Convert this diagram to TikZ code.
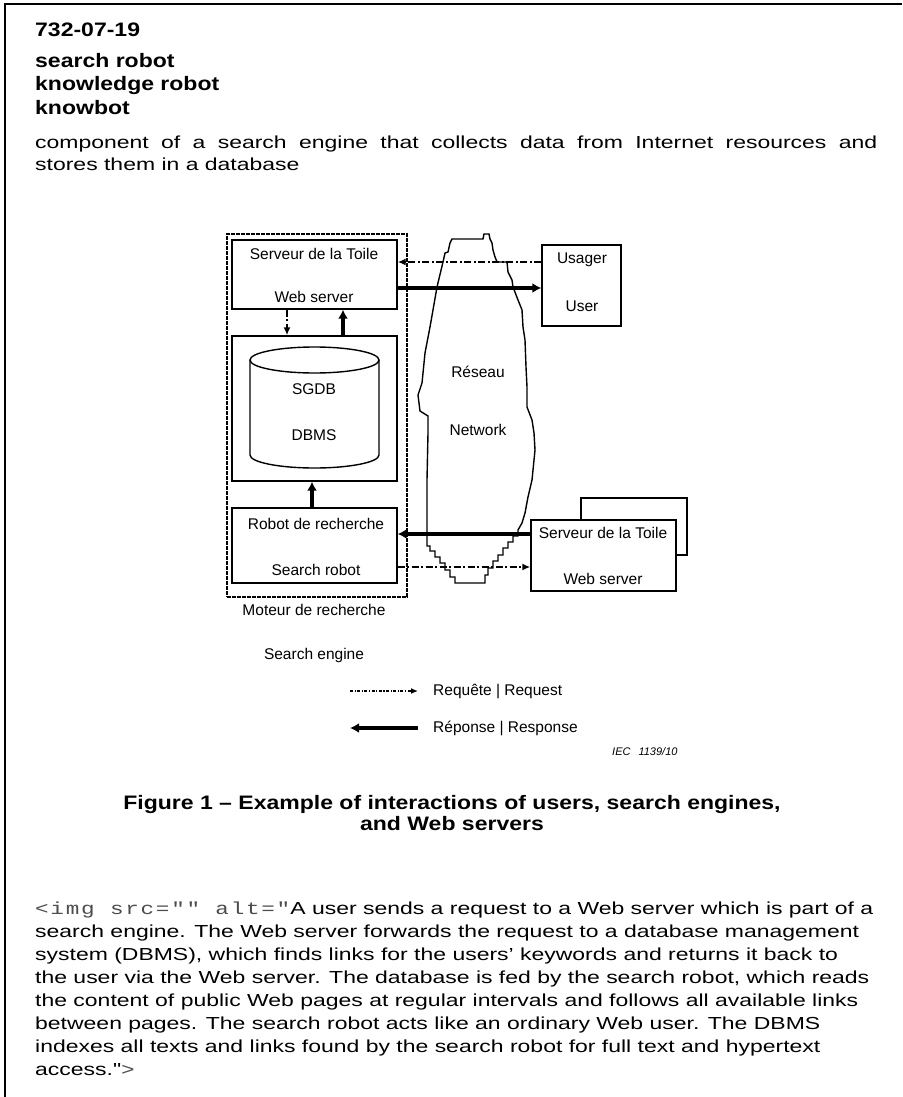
\documentclass[tikz,border=0pt]{standalone}
\usepackage{fontspec}
\setmainfont{Liberation Sans}
\newfontfamily\headfont[FakeStretch=1.18]{Liberation Sans}
\newfontfamily\bodyfont[FakeStretch=1.32]{Liberation Sans}
\newfontfamily\altcode[FakeStretch=1.3, LetterSpace=10]{Liberation Mono}
\usetikzlibrary{arrows.meta}

\tikzset{
  box/.style={draw, line width=1.4pt, fill=white, inner sep=0pt},
  lbl/.style={inner sep=0pt, font=\fontsize{15.5}{18}\selectfont},
  txt/.style={inner sep=0pt, anchor=base west},
  head/.style={txt, font=\headfont\bfseries\fontsize{19.5}{23}\selectfont},
  alt/.style={txt, font=\bodyfont\fontsize{17.4}{23}\selectfont},
  req/.style={line width=1.8pt, dash pattern=on 7pt off 2.5pt on 2pt off 2.5pt,
    -{Latex[length=8pt,width=7pt]}},
  resp/.style={line width=4.5pt, -{Latex[length=9pt,width=10pt]}},
}

\begin{document}
\begin{tikzpicture}[x=1pt, y=-1pt]
\useasboundingbox (0,0) rectangle (902,1097);
\fill[white] (0,0) rectangle (902,1097);
\draw[line width=2.7pt] (5,1097) -- (5,4) -- (902,4);

% term entry
\node[head] (termno) at (35,37) {732-07-19};
\node[head] (terma) at (35,68) {search robot};
\node[head] (termb) at (35,91) {knowledge robot};
\node[head] (termc) at (35,114) {knowbot};
\node[alt] (defa) at (35,149)
  {\makebox[842pt][s]{component of a search engine that collects data from Internet resources and}};
\node[alt] (defb) at (35,170) {stores them in a database};

% network
\draw[line width=1.4pt] (452,239) -- (483,239) -- (484,234) -- (489,234) -- (490,239)
  -- (492,243) -- (493,250) -- (495,257) -- (497,262) -- (507,262) -- (508,272)
  -- (512,280) -- (513,287) -- (518,300) -- (522,310) -- (523,327) -- (525,340)
  -- (526,367) -- (527,387) -- (527,407) -- (532,420) -- (534,433) -- (535,450)
  -- (532,480) -- (528,497) -- (525,513) -- (522,523) -- (518,530) -- (518,536)
  -- (513,536) -- (513,542) -- (508,542) -- (508,548) -- (503,548) -- (503,555)
  -- (498,555) -- (498,561) -- (493,561) -- (493,568) -- (488,568) -- (488,575)
  -- (485,575) -- (485,583) -- (455,583) -- (455,577) -- (450,577) -- (450,570)
  -- (445,570) -- (445,563) -- (440,563) -- (440,557) -- (435,557) -- (435,551)
  -- (430,551) -- (430,546) -- (427,546) -- (427,480) -- (428,433) -- (428,416)
  -- (420,411) -- (418,395) -- (422,383) -- (425,353) -- (430,327) -- (433,310)
  -- (437,287) -- (443,262) -- (445,253) -- (448,252) -- (450,243) -- cycle;
\node[lbl] (reseau) at (478,372) {Réseau};
\node[lbl] (network) at (478,430) {Network};

% search engine
\node[draw, line width=2.6pt, dash pattern=on 4pt off 1pt, minimum width=180pt,
  minimum height=363pt] (engine) at (317,415.5) {};
\node[box, minimum width=165pt, minimum height=69pt] (weba) at (314.5,274.5) {};
\node[lbl] (webafr) at (314,254) {Serveur de la Toile};
\node[lbl] (webaen) at (314,297) {Web server};
\node[box, minimum width=165pt, minimum height=145pt] (dbbox) at (314.5,408.5) {};
\draw[line width=1.4pt] (250,360) -- (250,455)
  arc[start angle=180, end angle=360, x radius=64.5pt, y radius=13pt] -- (379,360);
\draw[line width=1.4pt] (314.5,360) ellipse[x radius=64.5pt, y radius=13pt];
\node[lbl] (sgdb) at (314,389) {SGDB};
\node[lbl] (dbms) at (314,435) {DBMS};
\node[box, minimum width=165pt, minimum height=75pt] (robot) at (314.5,545.5) {};
\node[lbl] (robotfr) at (316,524) {Robot de recherche};
\node[lbl] (roboten) at (316,570) {Search robot};
\node[lbl] (enginefr) at (314,610) {Moteur de recherche};
\node[lbl] (engineen) at (314,655) {Search engine};

% user and remote web servers
\node[box, minimum width=79pt, minimum height=81pt] (user) at (581.5,285.5) {};
\node[lbl] (userfr) at (582,260) {Usager};
\node[lbl] (useren) at (582,306) {User};
\node[box, minimum width=106pt, minimum height=57pt] (webback) at (634,526.5) {};
\node[box, minimum width=145pt, minimum height=71pt] (webb) at (603.5,555.5) {};
\node[lbl] (webbfr) at (603,533) {Serveur de la Toile};
\node[lbl] (webben) at (603,579) {Web server};

% flows
\draw[req] ([yshift=12.5pt]weba.east -| user.west) -- ([yshift=12.5pt]weba.east);
\draw[resp] ([yshift=-13.5pt]weba.east) -- ([yshift=-13.5pt]weba.east -| user.west);
\draw[req] ([xshift=-27.5pt]weba.south) -- ([xshift=-27.5pt]dbbox.north);
\draw[resp] ([xshift=28.5pt]dbbox.north) -- ([xshift=28.5pt]weba.south);
\draw[resp] ([xshift=-2.5pt]robot.north) -- ([xshift=-2.5pt]dbbox.south);
\draw[resp] ([yshift=21.5pt]webb.west) -- ([yshift=21.5pt]webb.west -| robot.east);
\draw[req] ([yshift=-11.5pt]webb.west -| robot.east) -- ([yshift=-11.5pt]webb.west);

% legend
\node[lbl, anchor=west] (keyreq) at (433,691) {Requête | Request};
\node[lbl, anchor=west] (keyresp) at (433,728) {Réponse | Response};
\draw[line width=1.5pt, dash pattern=on 3pt off 1.5pt on 1.2pt off 1.5pt,
  -{Latex[length=7pt,width=6pt]}] ([xshift=-83pt]keyreq.west) -- ([xshift=-15pt]keyreq.west);
\draw[resp] ([xshift=-15pt]keyresp.west) -- ([xshift=-83pt]keyresp.west);
\node[txt, font=\fontsize{11}{13}\selectfont\itshape] (iec) at (612,755) {IEC\hspace{8pt}1139/10};

% caption
\node[head, anchor=base] (figa) at (452,809) {Figure 1 – Example of interactions of users, search engines,};
\node[head, anchor=base] (figb) at (452,830) {and Web servers};

% alt text
\node[alt] (alta) at (35,914) {{\altcode\color{black!70}<img src="" alt="}A user sends a request to a Web server which is part of a};
\node[alt] (altb) at (35,937) {search engine. The Web server forwards the request to a database management};
\node[alt] (altc) at (35,960) {system (DBMS), which finds links for the users’ keywords and returns it back to};
\node[alt] (altd) at (35,983) {the user via the Web server. The database is fed by the search robot, which reads};
\node[alt] (alte) at (35,1006) {the content of public Web pages at regular intervals and follows all available links};
\node[alt] (altf) at (35,1029) {between pages. The search robot acts like an ordinary Web user. The DBMS};
\node[alt] (altg) at (35,1052) {indexes all texts and links found by the search robot for full text and hypertext};
\node[alt] (alth) at (35,1075) {access."{\altcode\color{black!70}>}};
\end{tikzpicture}
\end{document}
